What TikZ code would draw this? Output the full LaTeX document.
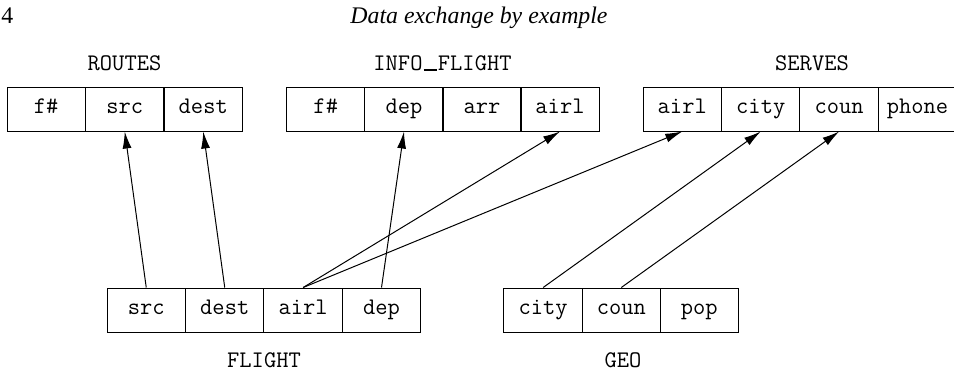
\documentclass[tikz,border=0pt]{standalone}
\usepackage{fontspec}
\setmainfont{Liberation Serif}
\usetikzlibrary{arrows.meta}
\begin{document}
\begin{tikzpicture}[x=0.5pt,y=-0.5pt, line width=0.5pt,
  cell/.style={draw, minimum width=39.2pt, minimum height=22pt, inner sep=0pt,
    text height=7pt, text depth=2.3pt, font=\ttfamily\fontsize{11.9}{14}\selectfont},
  lbl/.style={anchor=base, inner sep=0pt, font=\ttfamily\fontsize{11.9}{14}\selectfont},
  hdr/.style={inner sep=0pt, font=\fontsize{11.9}{14}\selectfont},
  arr/.style={-{Latex[length=8.5pt,width=4.5pt]}}]
\useasboundingbox (0,0) rectangle (954,371);

% header
\node[hdr, anchor=base west] (pg) at (1,23) {4};
\node[hdr, anchor=base, font=\itshape\fontsize{11.9}{14}\selectfont] (title) at (479,23) {Data exchange by example};

% ROUTES
\node[lbl] (lroutes) at (124.5,70.5) {ROUTES};
\node[cell] (rfn)   at (46.25,109) {f\#};
\node[cell] (rsrc)  at (124.75,109) {src};
\node[cell] (rdest) at (203.25,109) {dest};

% INFO_FLIGHT
\node[lbl] (linfo) at (442.5,70.5) {INFO\kern0.05em\rule{0.55em}{0.6pt}\kern0.05em FLIGHT};
\node[cell] (ifn)   at (325.75,109) {f\#};
\node[cell] (idep)  at (404,109) {dep};
\node[cell] (iarr)  at (482,109) {arr};
\node[cell] (iairl) at (560,109) {airl};

% SERVES
\node[lbl] (lserves) at (812,70.5) {SERVES};
\node[cell] (sairl)  at (682.25,109) {airl};
\node[cell] (scity)  at (760.75,109) {city};
\node[cell] (scoun)  at (839.15,109) {coun};
\node[cell] (sphone) at (917.5,109) {phone};

% FLIGHT
\node[cell] (fsrc)  at (146.25,310) {src};
\node[cell] (fdest) at (224.75,310) {dest};
\node[cell] (fairl) at (303.15,310) {airl};
\node[cell] (fdep)  at (381.5,310) {dep};
\node[lbl] (lflight) at (264,367) {FLIGHT};

% GEO
\node[cell] (gcity) at (543.15,310) {city};
\node[cell] (gcoun) at (621.3,310) {coun};
\node[cell] (gpop)  at (699.3,310) {pop};
\node[lbl] (lgeo) at (623,367) {GEO};

% connectors
\draw[arr] (fsrc.north)  -- (rsrc.south);
\draw[arr] (fdest.north) -- (rdest.south);
\draw[arr] (fdep.north)  -- (idep.south);
\draw[arr] (fairl.north) -- (iairl.south);
\draw[arr] (fairl.north) -- (sairl.south);
\draw[arr] (gcity.north) -- (scity.south);
\draw[arr] (gcoun.north) -- (scoun.south);
\end{tikzpicture}
\end{document}
